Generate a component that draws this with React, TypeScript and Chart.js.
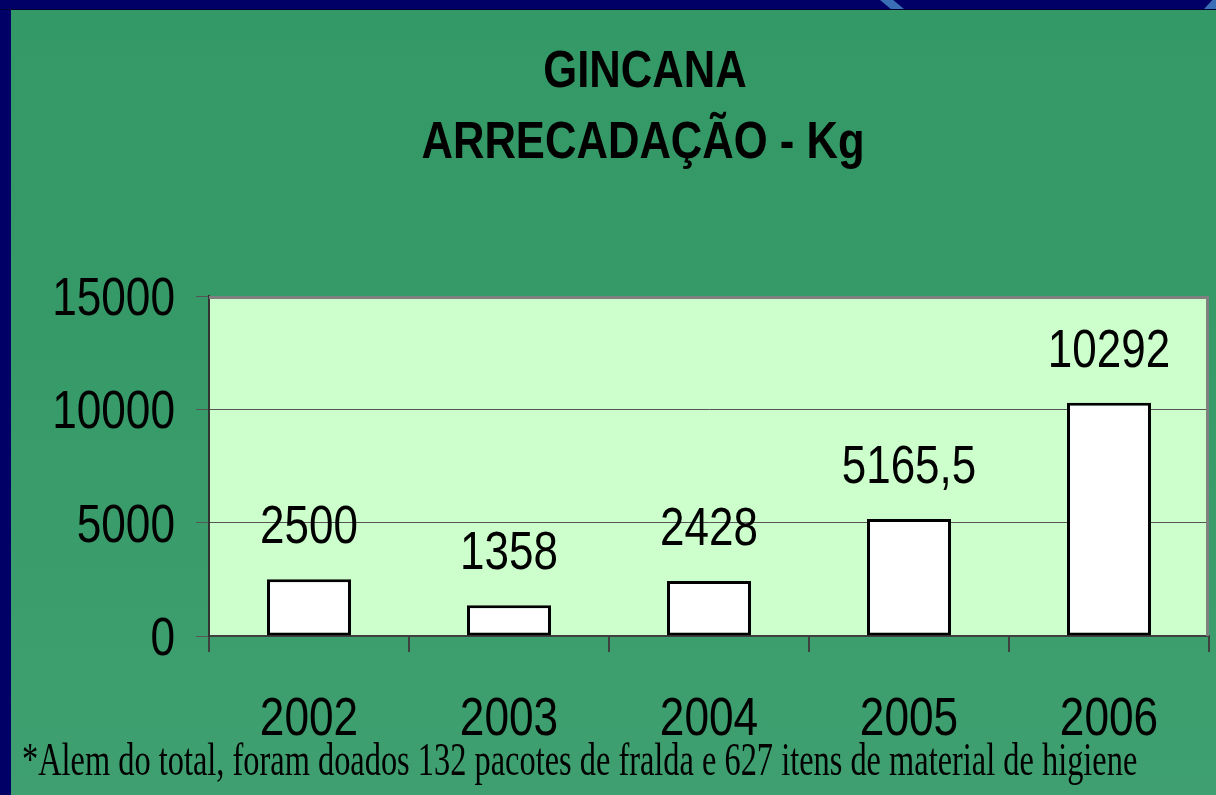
import React, { useEffect, useRef } from "react";
import { Chart, registerables } from "chart.js";

Chart.register(...registerables);

const categories = ["2002", "2003", "2004", "2005", "2006"];
const values = [2500, 1358, 2428, 5165.5, 10292];
const yTickValues = [0, 5000, 10000, 15000];
const titleLines = ["GINCANA", "ARRECADAÇÃO - Kg"];
const footnote =
  "*Alem do total, foram doados 132 pacotes de fralda e 627 itens de material de higiene";

const SANS = "'Liberation Sans', Arial, sans-serif";
const SERIF = "'Liberation Serif', 'Times New Roman', serif";

const fmt = (v: number) => String(v).replace(".", ",");

function stretchText(
  ctx: CanvasRenderingContext2D,
  text: string,
  x: number,
  baseline: number,
  font: string,
  sy: number,
  align: CanvasTextAlign
) {
  ctx.save();
  ctx.font = font;
  ctx.fillStyle = "#000";
  ctx.textAlign = align;
  ctx.textBaseline = "alphabetic";
  ctx.translate(x, baseline);
  ctx.scale(1, sy);
  ctx.fillText(text, 0, 0);
  ctx.restore();
}

const decoPlugin = {
  id: "deco",
  beforeDraw(chart: any) {
    const { ctx, chartArea: a } = chart;
    ctx.save();
    ctx.fillStyle = "#ccffcc";
    ctx.fillRect(a.left, a.top, a.right - a.left, a.bottom - a.top);
    ctx.restore();
  },
  afterDatasetsDraw(chart: any) {
    const { ctx, chartArea: a } = chart;
    ctx.save();
    ctx.strokeStyle = "#808080";
    ctx.lineWidth = 3;
    ctx.beginPath();
    ctx.moveTo(a.left, a.top + 1.5);
    ctx.lineTo(a.right - 1.5, a.top + 1.5);
    ctx.lineTo(a.right - 1.5, a.bottom);
    ctx.stroke();
    ctx.restore();

    // value labels
    const meta = chart.getDatasetMeta(0);
    meta.data.forEach((bar: any, i: number) => {
      stretchText(ctx, fmt(values[i]), bar.x, bar.y - 36, `44px ${SANS}`, 1.2, "center");
    });

    // title
    stretchText(ctx, titleLines[0], 634, 77, `bold 43.6px ${SANS}`, 1.19, "center");
    stretchText(ctx, titleLines[1], 632, 148, `bold 43.6px ${SANS}`, 1.19, "center");

    // y tick labels
    const ys = chart.scales.y;
    yTickValues.forEach((v) => {
      const py = ys.getPixelForValue(v);
      stretchText(ctx, String(v), 164, py + 19, `44.2px ${SANS}`, 1.2, "right");
    });

    // x tick labels
    const xs = chart.scales.x;
    categories.forEach((c, i) => {
      const px = xs.getPixelForValue(i);
      stretchText(ctx, c, px, 725, `44.2px ${SANS}`, 1.2, "center");
    });

    // footnote
    stretchText(ctx, footnote, 11, 765, `32.4px ${SERIF}`, 1.4, "left");
  },
};

export default function App() {
  const ref = useRef<HTMLCanvasElement>(null);
  useEffect(() => {
    if (!ref.current) return;
    const chart = new Chart(ref.current, {
      type: "bar",
      data: {
        labels: categories,
        datasets: [
          {
            data: values,
            backgroundColor: "#ffffff",
            borderColor: "#000000",
            borderWidth: 3,
            borderSkipped: false,
            barPercentage: 0.42,
            categoryPercentage: 1,
          },
        ],
      },
      options: {
        responsive: false,
        maintainAspectRatio: false,
        animation: false,
        layout: { padding: { left: 0, right: 7, top: 286, bottom: 0 } },
        plugins: {
          legend: { display: false },
          tooltip: { enabled: false },
          title: { display: false },
        },
        scales: {
          x: {
            afterFit: (s: any) => {
              s.height = 159;
            },
            grid: {
              offset: true,
              drawOnChartArea: false,
              drawTicks: true,
              tickLength: 16,
              color: "#404040",
              lineWidth: 2,
            },
            border: { display: true, color: "#404040", width: 2 },
            ticks: { display: false },
          },
          y: {
            min: 0,
            max: 15000,
            afterFit: (s: any) => {
              s.width = 198;
            },
            afterBuildTicks: (s: any) => {
              s.ticks = yTickValues.map((v) => ({ value: v }));
            },
            grid: {
              color: "#555555",
              lineWidth: 1,
              tickLength: 13,
              drawTicks: true,
            },
            border: { display: true, color: "#333333", width: 2 },
            ticks: { display: false },
          },
        },
      },
      plugins: [decoPlugin],
    });
    return () => chart.destroy();
  }, []);

  return (
    <div
      style={{
        position: "fixed",
        left: 0,
        top: 0,
        width: 1216,
        height: 795,
        background: "#000066",
        overflow: "hidden",
      }}
    >
      <div
        style={{
          position: "absolute",
          left: 0,
          top: 9,
          width: 1216,
          height: 1,
          background: "#000033",
        }}
      />
      <div
        style={{
          position: "absolute",
          left: 880,
          top: 0,
          width: 24,
          height: 9,
          background: "#3a6fb5",
          clipPath: "polygon(0 0, 55% 0, 100% 100%, 45% 100%)",
        }}
      />
      <div
        style={{
          position: "absolute",
          left: 1204,
          top: 0,
          width: 14,
          height: 9,
          background: "#3a6fb5",
          clipPath: "polygon(60% 0, 100% 0, 100% 100%, 0 100%)",
        }}
      />
      <div
        style={{
          position: "absolute",
          left: 11,
          top: 10,
          width: 1205,
          height: 785,
          background: "linear-gradient(to bottom, #339966 0%, #369a68 40%, #3f9f70 100%)",
        }}
      >
        <canvas ref={ref} width={1205} height={785} style={{ display: "block" }} />
      </div>
    </div>
  );
}
